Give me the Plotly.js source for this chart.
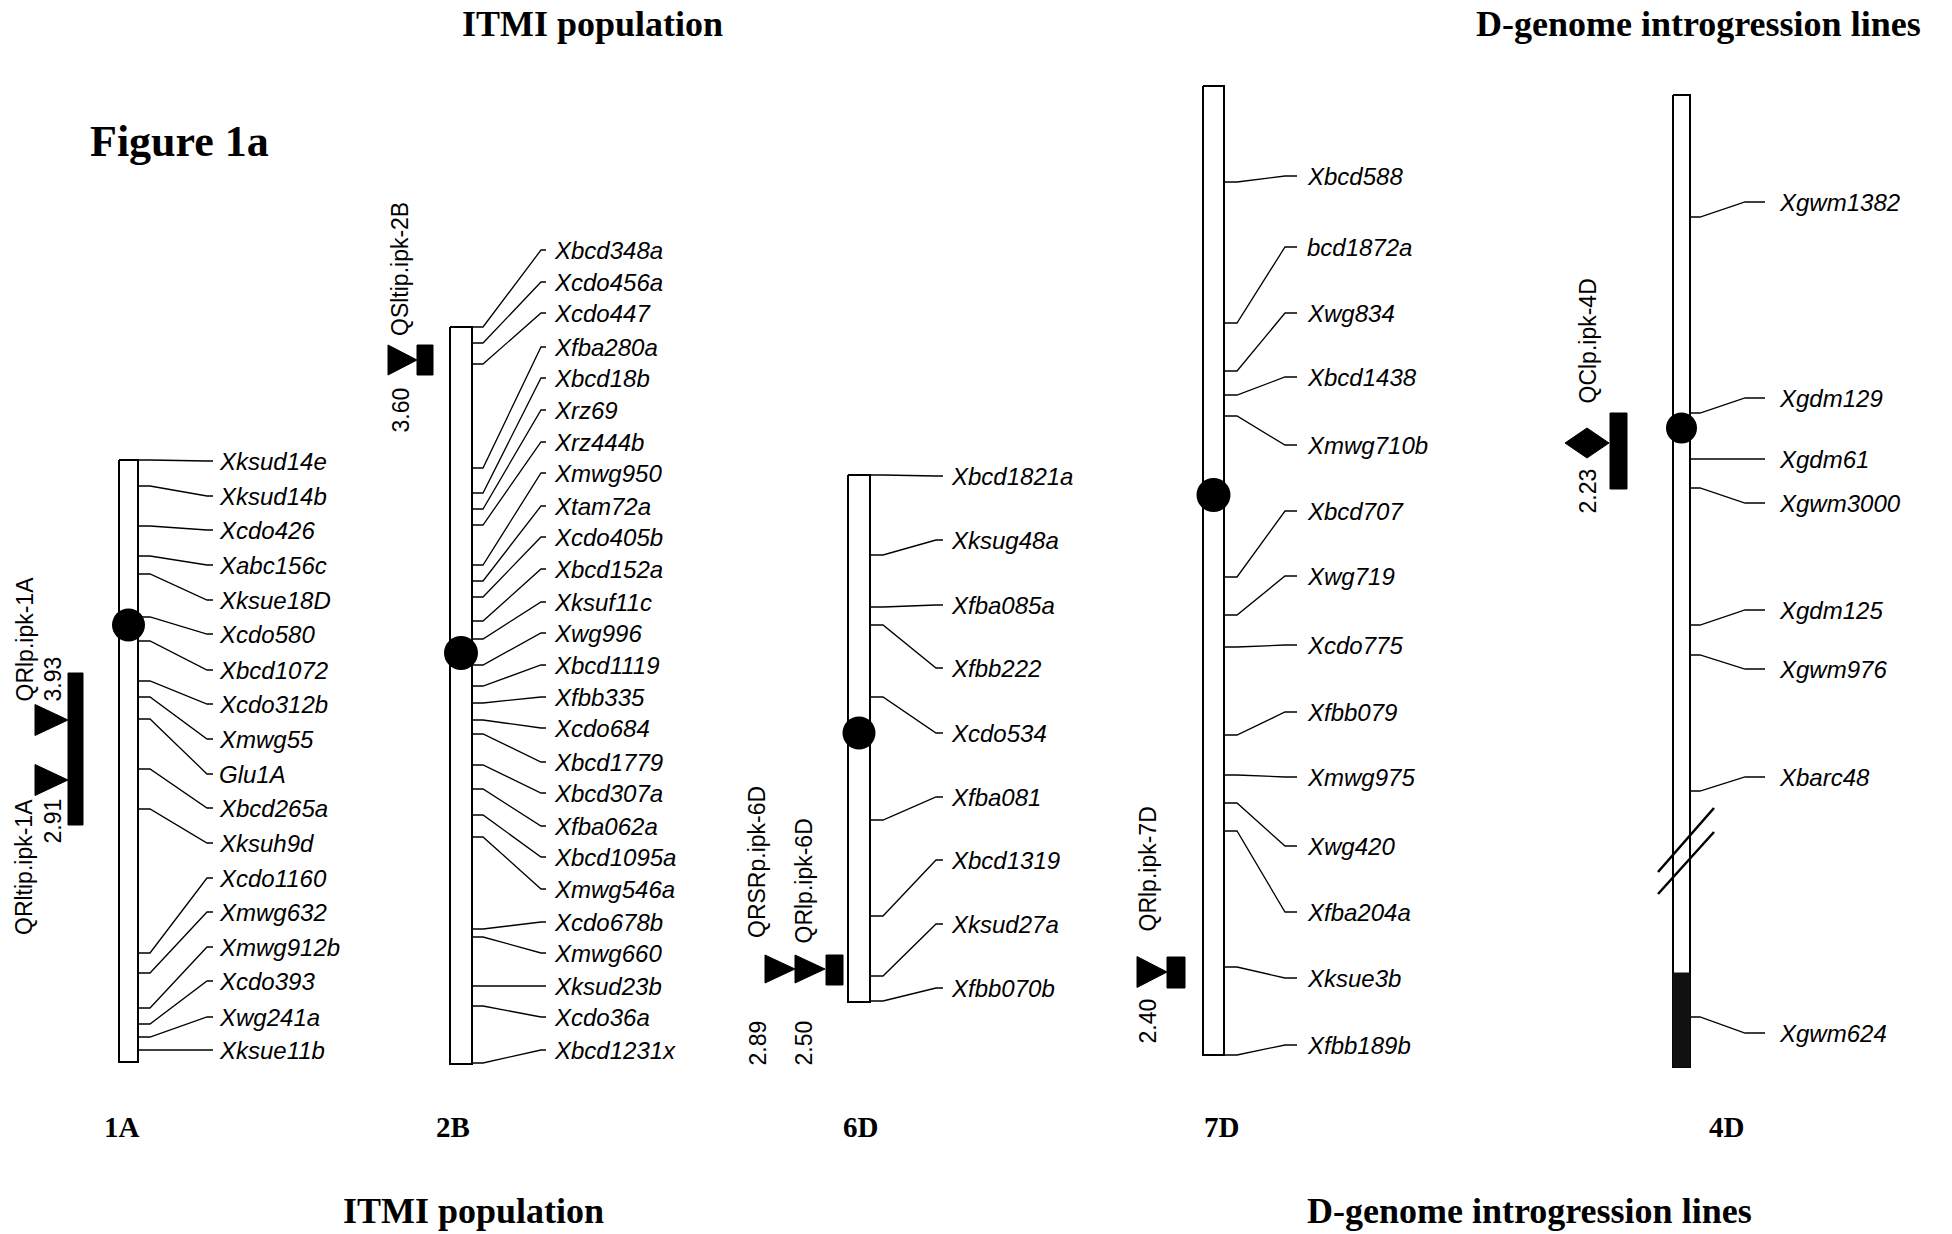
<!DOCTYPE html>
<html><head><meta charset="utf-8">
<script src="https://cdn.plot.ly/plotly-3.0.1.min.js"></script>
<style>html,body{margin:0;padding:0;background:#fff;}#chart{width:1952px;height:1234px;}</style>
</head><body><div id="chart"></div>
<script>
// ================= DATA (map positions) =================
const chromosomes = ['1A', '2B', '6D', '7D', '4D'];
const chrTop      = [460, 327, 475, 86, 95];
const chrBottom   = [1062, 1064, 1002, 1055, 1067];
const centromere  = [625, 653, 733, 495, 428];

const markers1A = ['Xksud14e','Xksud14b','Xcdo426','Xabc156c','Xksue18D','Xcdo580','Xbcd1072','Xcdo312b','Xmwg55','Glu1A','Xbcd265a','Xksuh9d','Xcdo1160','Xmwg632','Xmwg912b','Xcdo393','Xwg241a','Xksue11b'];
const pos1A     = [460,486,526,556,574,617,641,681,697,719,769,809,953,973,1008,1024,1037,1050];
const lab1A     = [461,496,530,565,600,634,670,704,739,774,808,843,878,912,947,981,1017,1050];

const markers2B = ['Xbcd348a','Xcdo456a','Xcdo447','Xfba280a','Xbcd18b','Xrz69','Xrz444b','Xmwg950','Xtam72a','Xcdo405b','Xbcd152a','Xksuf11c','Xwg996','Xbcd1119','Xfbb335','Xcdo684','Xbcd1779','Xbcd307a','Xfba062a','Xbcd1095a','Xmwg546a','Xcdo678b','Xmwg660','Xksud23b','Xcdo36a','Xbcd1231x'];
const pos2B     = [327,343,364,468,493,509,525,565,581,597,621,639,665,686,703,720,734,765,789,815,837,929,937,986,1006,1063];
const lab2B     = [250,282,313,347,378,410,442,473,506,537,569,602,633,665,697,728,762,793,826,857,889,922,953,986,1017,1050];

const markers6D = ['Xbcd1821a','Xksug48a','Xfba085a','Xfbb222','Xcdo534','Xfba081','Xbcd1319','Xksud27a','Xfbb070b'];
const pos6D     = [475,555,607,625,697,820,916,976,1001];
const lab6D     = [476,540,605,668,733,797,860,924,988];

const markers7D = ['Xbcd588','bcd1872a','Xwg834','Xbcd1438','Xmwg710b','Xbcd707','Xwg719','Xcdo775','Xfbb079','Xmwg975','Xwg420','Xfba204a','Xksue3b','Xfbb189b'];
const pos7D     = [182,323,371,395,416,577,615,647,735,775,803,831,967,1055];
const lab7D     = [176,247,313,377,445,511,576,645,712,777,846,912,978,1045];

const markers4D = ['Xgwm1382','Xgdm129','Xgdm61','Xgwm3000','Xgdm125','Xgwm976','Xbarc48','Xgwm624'];
const pos4D     = [217,413,459,488,625,655,791,1017];
const lab4D     = [202,398,459,503,610,669,777,1033];
const introgression4D = [973, 1067];   // dark segment (start, end)
const break4D = 851;                    // map break

// QTLs
const qtlName  = ['QRlp.ipk-1A','QRltip.ipk-1A','QSltip.ipk-2B','QRSRp.ipk-6D','QRlp.ipk-6D','QRlp.ipk-7D','QClp.ipk-4D'];
const qtlLOD   = ['3.93','2.91','3.60','2.89','2.50','2.40','2.23'];
const qtlChr   = ['1A','1A','2B','6D','6D','7D','4D'];
const qtlPeak  = [720, 780, 360, 969, 969, 972, 443];
const qtlIntervalChr   = ['1A','2B','6D','7D','4D'];
const qtlIntervalStart = [673, 345, 955, 957, 413];
const qtlIntervalEnd   = [825, 375, 985, 988, 489];

const titlesTop    = ['ITMI population', 'D-genome introgression lines'];
const titlesBottom = ['ITMI population', 'D-genome introgression lines'];
const figLabel = 'Figure 1a';

// ================= LAYOUT CONFIG (positions / styles) =================
const chrCfg = {
  '1A': {xl:119, xr:138, elbow:150, diag:207, end:213, tx:217, cs:33, lab:-7},
  '2B': {xl:450, xr:472, elbow:483, diag:541, end:546, tx:552, cs:34, lab:-8},
  '6D': {xl:848, xr:870, elbow:883, diag:936, end:943, tx:949, cs:33, lab:1},
  '7D': {xl:1203, xr:1224, elbow:1237, diag:1285, end:1297, tx:1305, cs:34, lab:8},
  '4D': {xl:1673, xr:1690, elbow:1700, diag:1745, end:1765, tx:1777, cs:31, lab:45}
};
const markerData = {'1A':[markers1A,pos1A,lab1A],'2B':[markers2B,pos2B,lab2B],'6D':[markers6D,pos6D,lab6D],'7D':[markers7D,pos7D,lab7D],'4D':[markers4D,pos4D,lab4D]};
const qtlCfg = [
  {sym:'tri', tip:68,  base:35,  hh:15.5, lx:24,   ly:703, lside:'bottom', dx:52,   dy:703, dside:'bottom'},
  {sym:'tri', tip:68,  base:35,  hh:15.5, lx:24,   ly:798, lside:'top',    dx:52,   dy:798, dside:'top'},
  {sym:'tri', tip:417, base:388, hh:15,   lx:400,  ly:337, lside:'bottom', dx:400,  dy:387, dside:'top'},
  {sym:'tri', tip:795, base:765, hh:14,   lx:757,  ly:939, lside:'bottom', dx:757,  dy:1020, dside:'top'},
  {sym:'tri', tip:825, base:795, hh:14,   lx:803,  ly:945, lside:'bottom', dx:803,  dy:1020, dside:'top'},
  {sym:'tri', tip:1167,base:1137,hh:15.5, lx:1147, ly:933, lside:'bottom', dx:1147, dy:998, dside:'top'},
  {sym:'dia', tip:1609,base:1565,hh:15,   lx:1587, ly:405, lside:'bottom', dx:1587, dy:468, dside:'top'}
];
const intervalX = {'1A':[68,83], '2B':[417,433], '6D':[826,843], '7D':[1167,1185], '4D':[1610,1627]};

const markerFont = {family:'"Liberation Sans", Arial, sans-serif', size:24, color:'#000', style:'italic'};
const qtlFont = {family:'"Liberation Sans", Arial, sans-serif', size:23, color:'#000'};
const serifBold = (s) => ({family:'"Liberation Serif", "Times New Roman", serif', size:s, color:'#000', weight:'bold'});

// ================= BUILD =================
const traces = [];
const annotations = [];

chromosomes.forEach((c, i) => {
  const g = chrCfg[c];
  traces.push({x:[g.xl,g.xr,g.xr,g.xl,g.xl], y:[chrTop[i],chrTop[i],chrBottom[i],chrBottom[i],chrTop[i]],
    mode:'lines', fill:'toself', fillcolor:'#fff', line:{color:'#000', width:2}, hoverinfo:'skip'});
  const [names, pos, lab] = markerData[c];
  const lx = [], ly = [];
  names.forEach((n, k) => {
    lx.push(g.xr, g.elbow, g.diag, g.end, null);
    ly.push(pos[k], pos[k], lab[k], lab[k], null);
    annotations.push({x:g.tx, y:lab[k], xref:'x', yref:'y', text:n, showarrow:false,
      xanchor:'left', yanchor:'middle', font:markerFont});
  });
  traces.push({x:lx, y:ly, mode:'lines', line:{color:'#000', width:1.3}, hoverinfo:'skip'});
});

// 4D introgression segment and map break
(function(){
  const g = chrCfg['4D'];
  const [a, b] = introgression4D;
  traces.push({x:[g.xl,g.xr,g.xr,g.xl,g.xl], y:[a,a,b,b,a], mode:'lines', fill:'toself',
    fillcolor:'#111', line:{color:'#111', width:1}, hoverinfo:'skip'});
  const bx0 = g.xl - 15, bx1 = g.xr + 24;
  traces.push({x:[bx0, bx1, null, bx0, bx1], y:[break4D+21, break4D-43, null, break4D+43, break4D-19],
    mode:'lines', line:{color:'#000', width:2.5}, hoverinfo:'skip'});
})();

// centromeres
traces.push({
  x: chromosomes.map(c => (chrCfg[c].xl + chrCfg[c].xr) / 2),
  y: centromere, mode:'markers',
  marker:{symbol:'circle', color:'#000', opacity:1, size: chromosomes.map(c => chrCfg[c].cs), line:{width:0}},
  hoverinfo:'skip'});

// QTL intervals
qtlIntervalChr.forEach((c, i) => {
  const [x0, x1] = intervalX[c];
  const a = qtlIntervalStart[i], b = qtlIntervalEnd[i];
  traces.push({x:[x0,x1,x1,x0,x0], y:[a,a,b,b,a], mode:'lines', fill:'toself',
    fillcolor:'#000', line:{color:'#000', width:1}, hoverinfo:'skip'});
});

// QTL peaks + labels
qtlName.forEach((n, i) => {
  const q = qtlCfg[i], y = qtlPeak[i];
  let px, py;
  if (q.sym === 'tri') {
    px = [q.base, q.tip, q.base, q.base]; py = [y - q.hh, y, y + q.hh, y - q.hh];
  } else {
    const cx = (q.base + q.tip) / 2;
    px = [q.base, cx, q.tip, cx, q.base]; py = [y, y - q.hh, y, y + q.hh, y];
  }
  traces.push({x:px, y:py, mode:'lines', fill:'toself', fillcolor:'#000', line:{color:'#000', width:1}, hoverinfo:'skip'});
  annotations.push({x:q.lx, y:q.ly, xref:'x', yref:'y', text:n, showarrow:false, textangle:-90,
    xanchor:'center', yanchor:q.lside, font:qtlFont, borderpad:0});
  annotations.push({x:q.dx, y:q.dy, xref:'x', yref:'y', text:qtlLOD[i], showarrow:false, textangle:-90,
    xanchor:'center', yanchor:q.dside, font:qtlFont, borderpad:0});
});

// chromosome names
const chrLabelY = 1127;
chromosomes.forEach((c) => {
  const g = chrCfg[c];
  annotations.push({x:(g.xl+g.xr)/2 + g.lab, y:chrLabelY, xref:'x', yref:'y', text:c, showarrow:false,
    xanchor:'center', yanchor:'middle', font:serifBold(29)});
});

// titles
annotations.push({x:592, y:24, xref:'x', yref:'y', text:titlesTop[0], showarrow:false, xanchor:'center', yanchor:'middle', font:serifBold(36)});
annotations.push({x:1698, y:24, xref:'x', yref:'y', text:titlesTop[1], showarrow:false, xanchor:'center', yanchor:'middle', font:serifBold(36)});
annotations.push({x:473, y:1211, xref:'x', yref:'y', text:titlesBottom[0], showarrow:false, xanchor:'center', yanchor:'middle', font:serifBold(36)});
annotations.push({x:1529, y:1211, xref:'x', yref:'y', text:titlesBottom[1], showarrow:false, xanchor:'center', yanchor:'middle', font:serifBold(36)});
annotations.push({x:88, y:141, xref:'x', yref:'y', text:figLabel, showarrow:false, xanchor:'left', yanchor:'middle', font:serifBold(44)});

const layout = {
  width:1952, height:1234, autosize:false,
  margin:{l:0, r:0, t:0, b:0, pad:0},
  paper_bgcolor:'#fff', plot_bgcolor:'#fff',
  showlegend:false,
  xaxis:{range:[0,1952], visible:false, fixedrange:true},
  yaxis:{range:[1234,0], visible:false, fixedrange:true},
  annotations: annotations
};
Plotly.newPlot('chart', traces, layout, {staticPlot:true, displayModeBar:false});
</script>
</body></html>
